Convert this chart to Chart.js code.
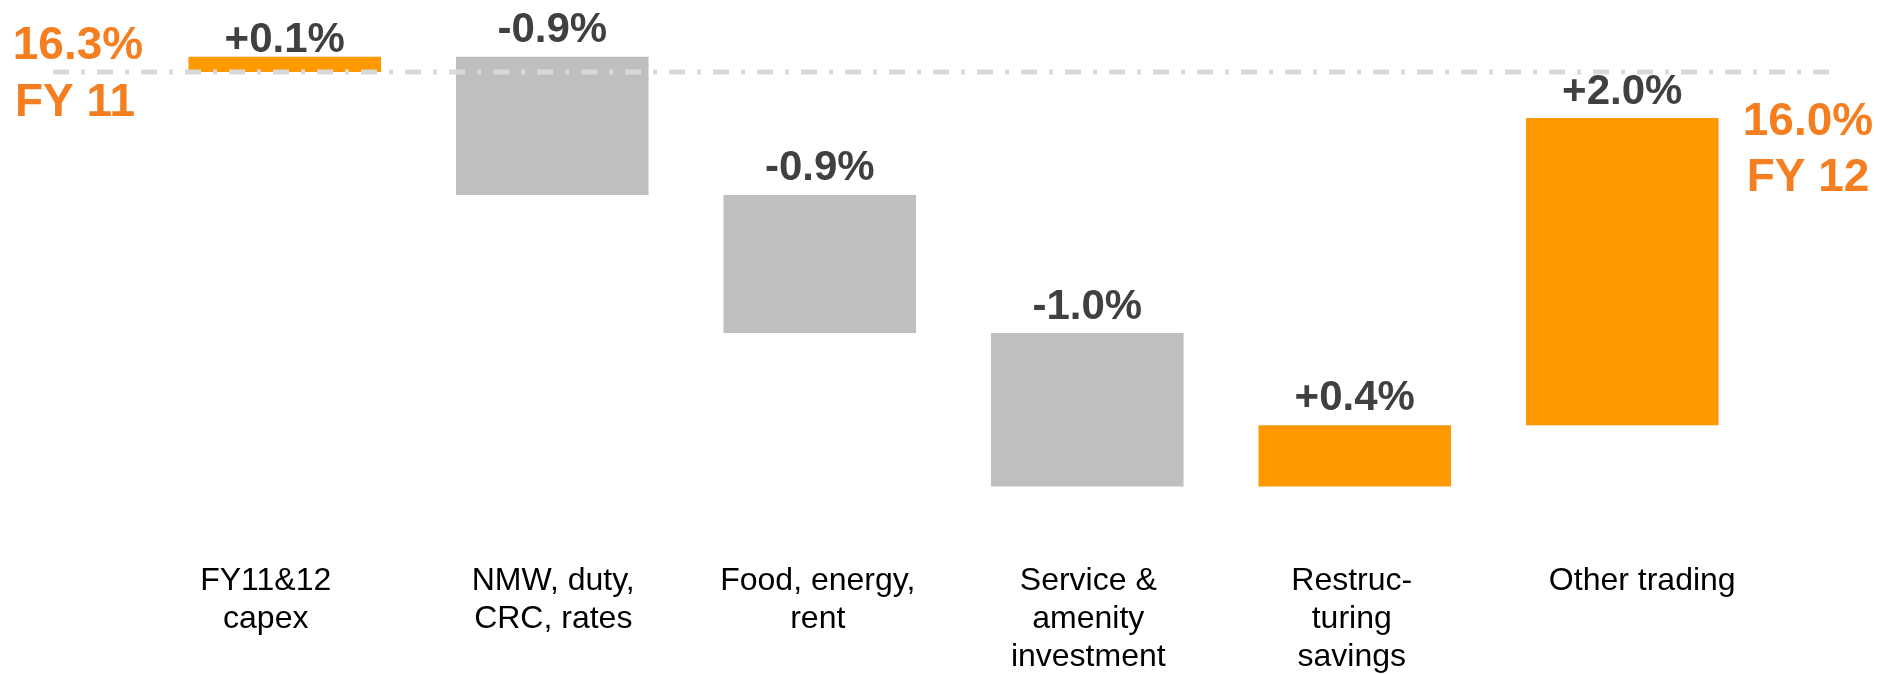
<!DOCTYPE html>
<html>
<head>
<meta charset="utf-8">
<script src="https://cdn.jsdelivr.net/npm/chart.js@4.4.1/dist/chart.umd.min.js"></script>
<style>
  html, body { margin: 0; padding: 0; background: #ffffff; }
  #wrap { width: 1880px; height: 674px; position: relative; }
</style>
</head>
<body>
<div id="wrap"><canvas id="bridge"></canvas></div>
<script>
// Margin bridge FY11 -> FY12

const categories = [
    ['FY11&12', 'capex'],
    ['NMW, duty,', 'CRC, rates'],
    ['Food, energy,', 'rent'],
    ['Service &', 'amenity', 'investment'],
    ['Restruc-', 'turing', 'savings'],
    ['Other trading']
];
const startValue = 16.3;
const startLabel = ['16.3%', 'FY 11'];
const changes = [0.1, -0.9, -0.9, -1.0, 0.4, 2.0];
const endValue = 16.0;
const endLabel = ['16.0%', 'FY 12'];

// styling: label lift above bar tops, category text nudges (px)
const labelLift = [5, 15, 15, 14, 15, 14];
const tickShift = [-19, 1, -2, 1, -3, 20];

const ORANGE = '#ff9900';
const GREY = '#bfbfbf';
const TEXT_ORANGE = '#f47e20';

// floating bars for the waterfall
let running = startValue;
const ranges = changes.map(c => {
    const r = [running, running + c];
    running += c;
    return r;
});

const bridgePlugin = {
    id: 'bridgeExtras',
    afterDatasetsDraw(chart) {
        const ctx = chart.ctx;
        const y = chart.scales.y;
        const x = chart.scales.x;
        const area = chart.chartArea;
        const meta = chart.getDatasetMeta(0);

        // dash-dot reference line at the starting margin
        const yStart = y.getPixelForValue(startValue);
        ctx.save();
        ctx.strokeStyle = '#d9d9d9';
        ctx.lineWidth = 5;
        ctx.setLineDash([16, 12, 4, 12]);
        ctx.beginPath();
        ctx.moveTo(53, yStart);
        ctx.lineTo(area.right + 80, yStart);
        ctx.stroke();
        ctx.restore();

        // value labels
        ctx.save();
        ctx.font = 'bold 42px "Liberation Sans", Arial, sans-serif';
        ctx.fillStyle = '#404040';
        ctx.textAlign = 'center';
        ctx.textBaseline = 'alphabetic';
        meta.data.forEach((bar, i) => {
            const top = Math.min(bar.y, bar.base);
            const v = changes[i];
            const txt = (v > 0 ? '+' : '') + v.toFixed(1) + '%';
            ctx.fillText(txt, bar.x, top - labelLift[i]);
        });
        ctx.restore();

        // category labels under the bars
        ctx.save();
        ctx.font = '32px "Liberation Sans", Arial, sans-serif';
        ctx.fillStyle = '#000000';
        ctx.textAlign = 'center';
        ctx.textBaseline = 'alphabetic';
        categories.forEach((lines, i) => {
            const cx = x.getPixelForValue(i) + tickShift[i];
            lines.forEach((line, j) => {
                ctx.fillText(line, cx, area.bottom + 42 + j * 38);
            });
        });
        ctx.restore();

        // start / end margin labels
        ctx.save();
        ctx.font = 'bold 46px "Liberation Sans", Arial, sans-serif';
        ctx.fillStyle = TEXT_ORANGE;
        ctx.textAlign = 'center';
        ctx.textBaseline = 'alphabetic';
        ctx.fillText(startLabel[0], 78, yStart - 13);
        ctx.fillText(startLabel[1], 75, yStart + 44);
        const yEnd = y.getPixelForValue(endValue);
        const xEnd = area.right + 52;
        ctx.fillText(endLabel[0], xEnd, yEnd + 17);
        ctx.fillText(endLabel[1], xEnd, yEnd + 73);
        ctx.restore();
    }
};

const ctx = document.getElementById('bridge').getContext('2d');
new Chart(ctx, {
    type: 'bar',
    data: {
        labels: categories,
        datasets: [{
            data: ranges,
            backgroundColor: changes.map(c => c >= 0 ? ORANGE : GREY),
            borderWidth: 0,
            borderSkipped: false,
            categoryPercentage: 1.0,
            barPercentage: 0.72
        }]
    },
    options: {
        responsive: true,
        maintainAspectRatio: false,
        animation: false,
        layout: {
            padding: { left: 151, right: 124, top: 26, bottom: 126 }
        },
        plugins: {
            legend: { display: false },
            tooltip: { enabled: false }
        },
        scales: {
            y: {
                display: false,
                min: 13.2,
                max: 16.6
            },
            x: {
                display: false
            }
        }
    },
    plugins: [bridgePlugin]
});
</script>
</body>
</html>
